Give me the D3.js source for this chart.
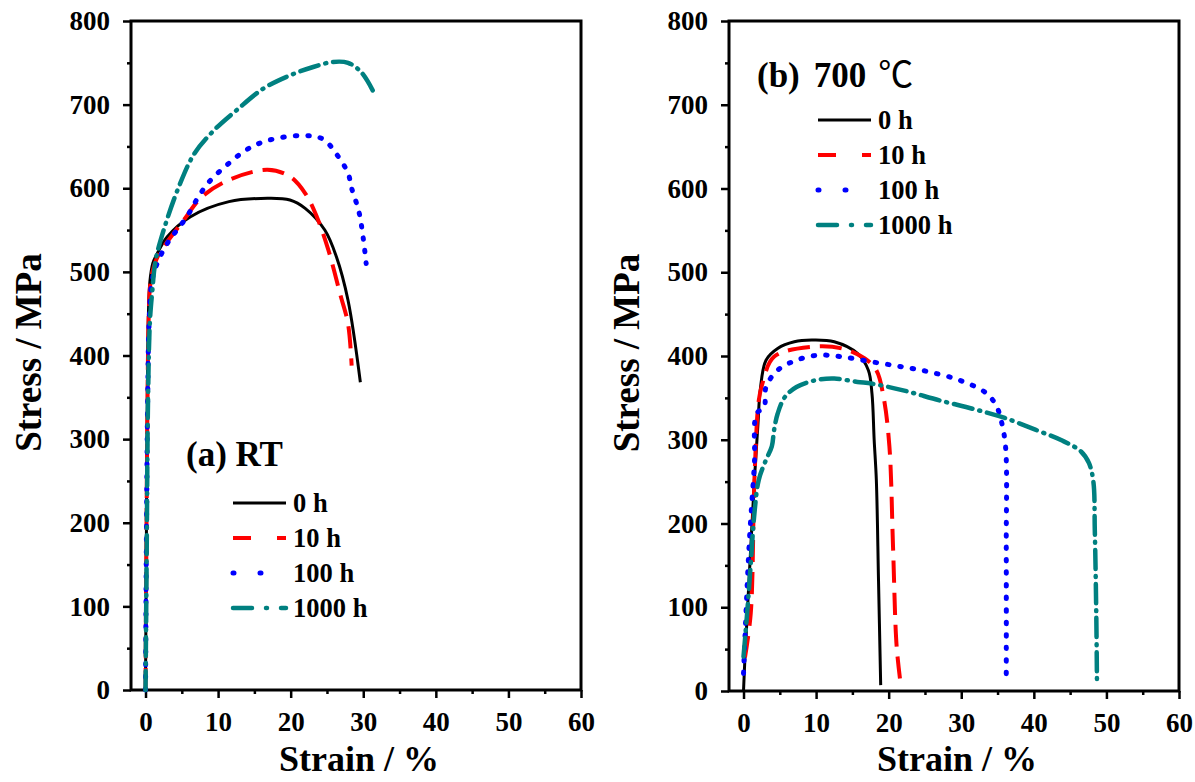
<!DOCTYPE html>
<html>
<head>
<meta charset="utf-8">
<script src="https://cdn.jsdelivr.net/npm/d3@7"></script>
<style>
  body { margin: 0; background: #fff; }
  svg text { font-family: "Liberation Serif", "Times New Roman", Tinos, "DejaVu Serif", serif; font-weight: bold; fill: #000; }
</style>
</head>
<body>
<svg id="chart" width="1195" height="782"></svg>
<script>
// axis ticks
var xTicks = [0, 10, 20, 30, 40, 50, 60];
var xMinor = [5, 15, 25, 35, 45, 55];
var yTicks = [0, 100, 200, 300, 400, 500, 600, 700, 800];
var yMinor = [50, 150, 250, 350, 450, 550, 650, 750];
var seriesNames = ["0 h", "10 h", "100 h", "1000 h"];

// (a) room temperature, [strain %, stress MPa]
var rt_0h = [[0,0],[0.1,150],[0.2,300],[0.3,400],[0.4,450],[0.6,488],[1.0,510],[1.5,520],[3.0,542],[6.2,566],[11.5,584],[16.8,588],[19.9,586],[22.0,576],[24.7,550],[26.3,518],[27.9,466],[29.6,368]];
var rt_10h = [[0,0],[0.1,150],[0.25,320],[0.4,430],[0.6,480],[0.9,498],[1.5,515],[2.5,530],[5.1,560],[7.8,590],[11.5,610],[16.8,622],[19.9,614],[22.0,594],[23.6,566],[25.2,526],[26.8,474],[27.9,438],[28.4,388]];
var rt_100h = [[0,0],[0.1,150],[0.3,350],[0.5,440],[0.9,490],[1.7,512],[3.0,534],[5.7,566],[7.3,590],[8.8,608],[11.5,630],[14.1,647],[16.8,657],[21.5,663],[24.4,659],[26.3,641],[27.9,618],[28.4,600],[29.4,572],[30.0,540],[30.4,510]];
var rt_1000h = [[0,0],[0.15,150],[0.35,350],[0.6,440],[0.9,474],[1.4,514],[2.5,550],[4.6,602],[6.7,641],[9.4,669],[12.5,693],[16.2,719],[19.9,735],[23.1,745],[25.8,751],[27.9,750],[29.7,739],[31.3,717]];

// (b) 700 C
var ht_0h = [[0,0],[0.2,40],[0.76,132],[1.5,252],[2.0,320],[2.3,359],[3.1,395],[4.7,409],[7.0,417],[9.4,419],[12.5,417],[15.7,403],[17.2,383],[17.7,355],[18.0,300],[18.3,252],[18.6,132],[18.9,7]];
var ht_10h = [[0.2,40],[1.0,93],[1.5,252],[2.1,347],[2.6,367],[4.2,399],[9.4,411],[13.6,409],[16.7,397],[18.3,383],[19.3,351],[20.1,292],[20.6,172],[21.1,53],[21.7,5]];
var ht_100h = [[0,21],[0.76,172],[1.5,272],[1.8,331],[2.85,339],[3.1,363],[4.7,383],[7.3,395],[10.4,401],[13.6,399],[17.7,393],[21.9,387],[25.6,381],[29.8,371],[33.4,356],[34.8,341],[35.5,323],[36.1,292],[36.2,172],[36.2,13]];
var ht_1000h = [[0,41],[0.5,93],[1.0,152],[1.5,212],[2.1,252],[3.1,276],[3.9,292],[4.2,311],[4.7,331],[5.7,351],[7.3,363],[9.9,371],[12.5,373],[15.7,369],[17.7,367],[22.0,359],[27.0,347],[32.0,336],[36.0,326],[40.2,312],[43.9,299],[46.5,286],[47.6,272],[48.2,250],[48.4,192],[48.6,93],[48.7,9]];

// line looks, same order as seriesNames
var styles = [
  {color: "#000000", dash: null, legDash: null, width: 3, cap: "butt"},
  {color: "#ff0000", dash: "22,10", legDash: "18,26", width: 4, cap: "butt"},
  {color: "#0000ff", dash: "1.5,11", legDash: "1,26", width: 5, cap: "round"},
  {color: "#008080", dash: "19,7,1,7", legDash: "19,14,1,14", width: 4.5, cap: "round"}
];
var serif = '"Liberation Serif", "Times New Roman", Tinos, "DejaVu Serif", serif';

var svg = d3.select("#chart");
svg.append("rect").attr("width", 1195).attr("height", 782).attr("fill", "#fff");

function drawPanel(left, top, width, height, curves, legendX, legendY) {
  var x = d3.scaleLinear().domain([-2, 60]).range([left, left + width]);
  var y = d3.scaleLinear().domain([0, 800]).range([top + height, top]);
  var g = svg.append("g").attr("font-family", serif).attr("font-weight", "bold");

  // major + minor ticks, bottom
  g.append("g").attr("transform", "translate(0," + (top + height) + ")")
    .call(d3.axisBottom(x).tickValues(xTicks).tickSize(8).tickPadding(14).tickFormat(d3.format("d")));
  g.append("g").attr("transform", "translate(0," + (top + height) + ")")
    .call(d3.axisBottom(x).tickValues(xMinor).tickSize(4).tickFormat(""));
  // left
  g.append("g").attr("transform", "translate(" + left + ",0)")
    .call(d3.axisLeft(y).tickValues(yTicks).tickSize(8).tickPadding(13).tickFormat(d3.format("d")));
  g.append("g").attr("transform", "translate(" + left + ",0)")
    .call(d3.axisLeft(y).tickValues(yMinor).tickSize(4).tickFormat(""));

  g.selectAll(".domain").remove();
  g.selectAll("g").attr("font-family", serif);
  g.selectAll(".tick line").attr("stroke", "#000").attr("stroke-width", 2.5);
  g.selectAll(".tick text").attr("font-size", 27).attr("font-weight", "bold");

  // frame
  g.append("rect")
    .attr("x", left).attr("y", top).attr("width", width).attr("height", height)
    .attr("fill", "none").attr("stroke", "#000").attr("stroke-width", 3);

  var line = d3.line()
    .x(function (d) { return x(d[0]); })
    .y(function (d) { return y(d[1]); })
    .curve(d3.curveCatmullRom.alpha(0.5));

  g.selectAll(".curve")
    .data(curves)
    .join("path")
    .attr("class", "curve")
    .attr("d", function (d) { return line(d); })
    .attr("fill", "none")
    .attr("stroke", function (d, i) { return styles[i].color; })
    .attr("stroke-width", function (d, i) { return styles[i].width; })
    .attr("stroke-dasharray", function (d, i) { return styles[i].dash; })
    .attr("stroke-linecap", function (d, i) { return styles[i].cap; })
    .attr("stroke-linejoin", "round");

  // axis titles
  g.append("text")
    .attr("transform", "translate(" + (left - 90) + "," + (top + height / 2 - 3) + ") rotate(-90)")
    .attr("text-anchor", "middle")
    .attr("font-size", 37)
    .text("Stress / MPa");
  g.append("text")
    .attr("x", left + width / 2 + 3).attr("y", 771)
    .attr("text-anchor", "middle")
    .attr("font-size", 36)
    .text("Strain / %");

  // legend
  var rowGap = 35;
  var leg = g.selectAll(".leg").data(seriesNames).join("g").attr("class", "leg")
    .attr("transform", function (d, i) { return "translate(" + legendX + "," + (legendY + i * rowGap) + ")"; });
  leg.append("line")
    .attr("x1", 0).attr("x2", 53).attr("y1", 0).attr("y2", 0)
    .attr("stroke", function (d, i) { return styles[i].color; })
    .attr("stroke-width", function (d, i) { return styles[i].width; })
    .attr("stroke-dasharray", function (d, i) { return styles[i].legDash; })
    .attr("stroke-linecap", function (d, i) { return styles[i].cap; });
  leg.append("text")
    .attr("x", 60).attr("y", 9)
    .attr("font-size", 26.5)
    .text(function (d) { return d; });

  return g;
}

var pa = drawPanel(131, 21, 450, 669, [rt_0h, rt_10h, rt_100h, rt_1000h], 233, 503);
pa.append("text").attr("x", 186).attr("y", 466).attr("font-size", 35).text("(a) RT");

var pb = drawPanel(729, 21, 450, 670, [ht_0h, ht_10h, ht_100h, ht_1000h], 818, 120);
var tb = pb.append("text").attr("x", 757).attr("y", 87).attr("font-size", 35);
tb.append("tspan").text("(b)");
tb.append("tspan").attr("dx", 14).text("700");
tb.append("tspan").attr("dx", 12).attr("font-family", "Noto Sans CJK SC").attr("font-weight", "normal").text("\u2103");
</script>
</body>
</html>
